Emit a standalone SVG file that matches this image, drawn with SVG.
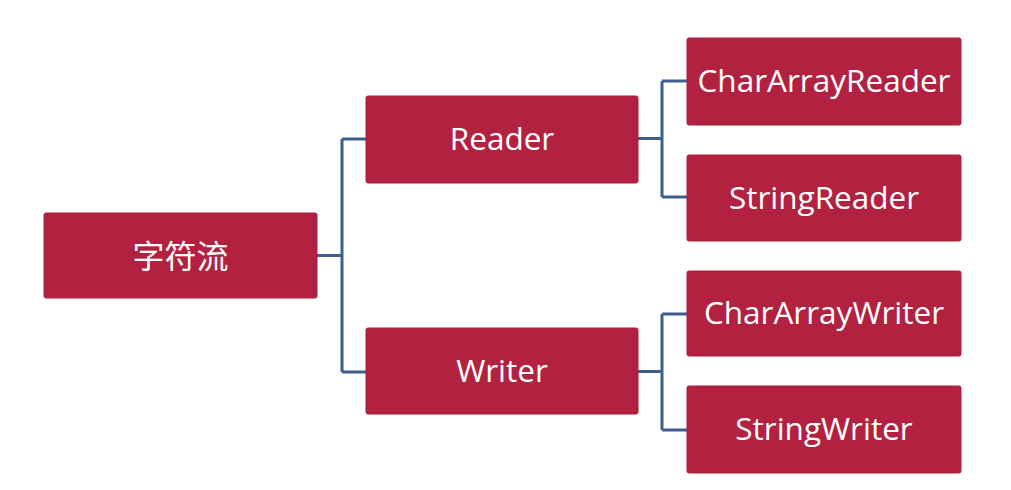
<svg xmlns="http://www.w3.org/2000/svg" width="1011" height="490" viewBox="0 0 1011 490">
<style>
.box{fill:#B22240;stroke:#A81C38;stroke-width:1}
.lbl{fill:#FFFFFF;font-family:"Open Sans","Noto Sans CJK SC",sans-serif;font-size:31.5px;text-anchor:middle;dominant-baseline:central}
.cn{font-family:"Noto Sans CJK SC",sans-serif;font-size:32px}
.conn{fill:none;stroke:#3E5F8E;stroke-width:3}
</style>
<rect width="1011" height="490" fill="#FFFFFF"/>
<g id="connectors">
<path class="conn" d="M317,255.5 H342 M342,139 V372 M342,139 H366 M342,372 H366"/>
<path class="conn" d="M638,138.5 H662 M662,81 V197 M662,81 H687 M662,197 H687"/>
<path class="conn" d="M638,371.5 H662 M662,314 V430 M662,314 H687 M662,430 H687"/>
</g>
<g id="root">
<rect class="box" x="44" y="213" width="273" height="85" rx="2"/>
<text class="lbl cn" x="180.5" y="253.5">字符流</text>
</g>
<g id="reader">
<rect class="box" x="366" y="96" width="272" height="87" rx="2"/>
<text class="lbl" x="502" y="137.5">Reader</text>
</g>
<g id="writer">
<rect class="box" x="366" y="328" width="272" height="86" rx="2"/>
<text class="lbl" x="502" y="369.5">Writer</text>
</g>
<g id="chararrayreader">
<rect class="box" x="687" y="38" width="274" height="87" rx="2"/>
<text class="lbl" x="824" y="79.5">CharArrayReader</text>
</g>
<g id="stringreader">
<rect class="box" x="687" y="155" width="274" height="86" rx="2"/>
<text class="lbl" x="824" y="196">StringReader</text>
</g>
<g id="chararraywriter">
<rect class="box" x="687" y="271" width="274" height="85" rx="2"/>
<text class="lbl" x="824" y="311.5">CharArrayWriter</text>
</g>
<g id="stringwriter">
<rect class="box" x="687" y="386" width="274" height="87" rx="2"/>
<text class="lbl" x="824" y="427.5">StringWriter</text>
</g>
</svg>
